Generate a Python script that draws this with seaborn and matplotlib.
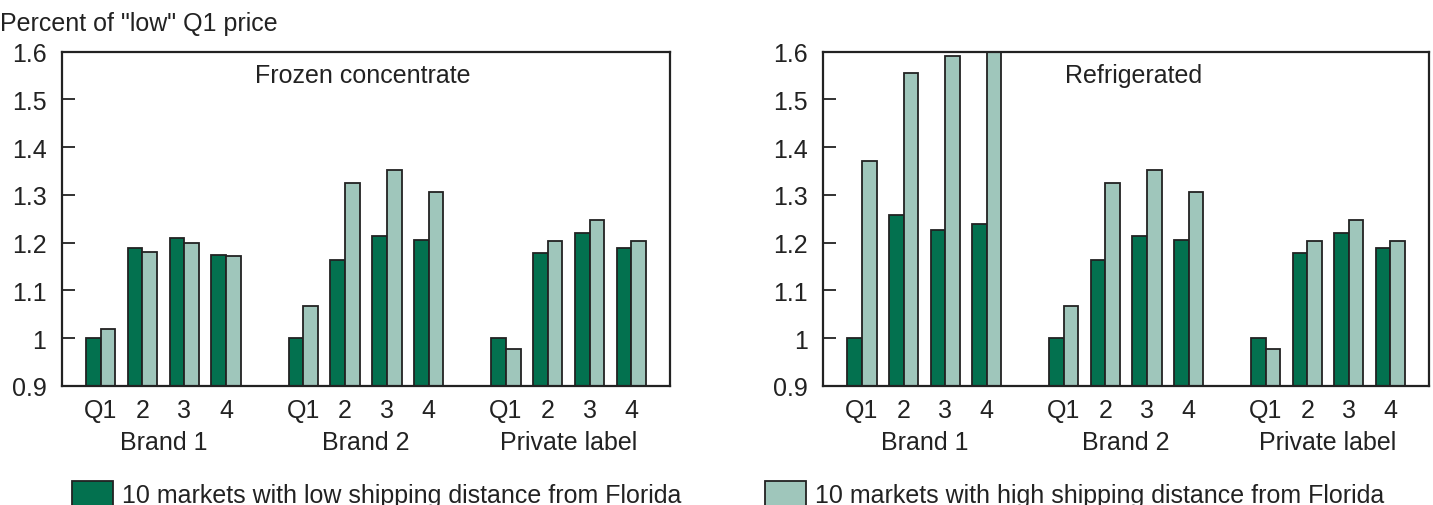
import matplotlib
matplotlib.use("Agg")
import matplotlib.pyplot as plt
import seaborn as sns
import pandas as pd
from matplotlib.patches import Patch
from matplotlib.ticker import FuncFormatter, MultipleLocator

# ---- data ----
groups = ["Brand 1", "Brand 2", "Private label"]
quarters = ["Q1", "2", "3", "4"]
series = ["10 markets with low shipping distance from Florida",
          "10 markets with high shipping distance from Florida"]
panels = ["Frozen concentrate", "Refrigerated"]

frozen_low = [1.00, 1.188, 1.210, 1.174, 1.00, 1.163, 1.213, 1.206, 1.00, 1.179, 1.221, 1.188]
frozen_high = [1.020, 1.180, 1.200, 1.172, 1.068, 1.324, 1.353, 1.307, 0.977, 1.203, 1.248, 1.203]
refrig_low = [1.00, 1.257, 1.226, 1.238, 1.00, 1.163, 1.213, 1.206, 1.00, 1.179, 1.221, 1.188]
refrig_high = [1.371, 1.556, 1.591, 1.600, 1.068, 1.324, 1.353, 1.307, 0.977, 1.203, 1.248, 1.203]

y_label = 'Percent of "low" Q1 price'

# ---- style ----
sns.set_style("ticks")
plt.rcParams["font.family"] = ["Liberation Sans", "DejaVu Sans"]
FS = 18
dark = "#03714f"
light = "#9fc6bb"
edge = "#222222"
txt = "#222222"

group_gap = 4.85
positions = [g * group_gap + q for g in range(len(groups)) for q in range(len(quarters))]


def make_df(low, high):
    rows = []
    for p, v in zip(positions, low):
        rows.append({"pos": p, "value": v, "series": series[0]})
    for p, v in zip(positions, high):
        rows.append({"pos": p, "value": v, "series": series[1]})
    return pd.DataFrame(rows)


fig = plt.figure(figsize=(14.33, 5.06), dpi=100)
ax1 = fig.add_axes([0.0431, 0.2352, 0.4243, 0.661])
ax2 = fig.add_axes([0.5745, 0.2352, 0.4225, 0.661])

data_sets = [(frozen_low, frozen_high), (refrig_low, refrig_high)]
title_x = [0.318, 0.40]

for ax, (lo, hi), title, tx in zip([ax1, ax2], data_sets, panels, title_x):
    df = make_df(lo, hi)
    sns.barplot(data=df, x="pos", y="value", hue="series", hue_order=series,
                palette=[dark, light], native_scale=True, width=0.7,
                edgecolor=edge, linewidth=1.3, legend=False, ax=ax,
                errorbar=None, saturation=1)
    ax.set_xlim(-0.93, 13.62)
    ax.set_ylim(0.9, 1.6)
    ax.yaxis.set_major_locator(MultipleLocator(0.1))
    ax.yaxis.set_major_formatter(FuncFormatter(lambda v, _: f"{v:g}"))
    ax.set_xticks(positions)
    ax.set_xticklabels(quarters * len(groups))
    ax.tick_params(axis="x", length=0, pad=9, labelsize=FS, colors=txt)
    ax.tick_params(axis="y", direction="in", length=9, width=1.3, pad=11,
                   labelsize=FS, colors=txt)
    ax.set_xlabel("")
    ax.set_ylabel("")
    for s in ax.spines.values():
        s.set_visible(True)
        s.set_linewidth(1.6)
        s.set_color(txt)
    ax.text(tx, 0.93, title, transform=ax.transAxes, ha="left", va="center",
            fontsize=FS, color=txt)
    for g, name in enumerate(groups):
        cx = g * group_gap + 1.5
        ax.text(cx, -0.166, name, transform=ax.get_xaxis_transform(),
                ha="center", va="center", fontsize=FS, color=txt)

fig.text(0.0, 0.953, y_label, ha="left", va="center", fontsize=18, color=txt)

for color, label, xpos in [(dark, series[0], 72 / 1433), (light, series[1], 765 / 1433)]:
    fig.legend(handles=[Patch(facecolor=color, edgecolor=edge, linewidth=1.3)],
               labels=[label], loc="center left", bbox_to_anchor=(xpos, 0.022),
               frameon=False, fontsize=FS, handlelength=1.64, handleheight=1.2,
               handletextpad=0.36, borderpad=0, borderaxespad=0,
               labelcolor=txt)

fig.savefig("out.png", dpi=100)
